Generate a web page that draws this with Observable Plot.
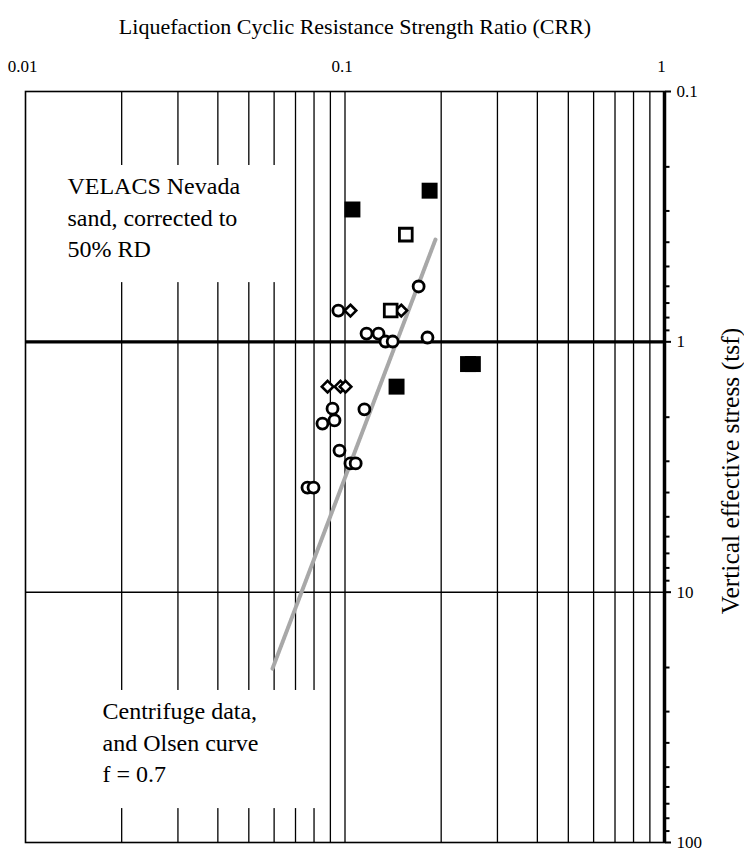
<!DOCTYPE html>
<html>
<head>
<meta charset="utf-8">
<script src="https://cdn.jsdelivr.net/npm/d3@7"></script>
<script src="https://cdn.jsdelivr.net/npm/@observablehq/plot@0.6"></script>
<style>
  html, body { margin: 0; padding: 0; background: #fff; }
  #chart svg { display: block; }
  #chart svg text { font-family: 'Liberation Serif', 'Times New Roman', serif; }
</style>
</head>
<body>
<div id="chart"></div>
<script>
// ---- Data ----
const titleX = "Liquefaction Cyclic Resistance Strength Ratio (CRR)";
const titleY = "Vertical effective stress (tsf)";
const xTicks = [0.01, 0.1, 1];
const yTicks = [0.1, 1, 10, 100];

// VELACS Nevada sand – filled squares
const filledSqX = [0.1055, 0.184, 0.2427, 0.2513, 0.145];
const filledSqY = [0.296, 0.249, 1.227, 1.227, 1.51];
// open squares
const openSqX = [0.155, 0.139];
const openSqY = [0.373, 0.75];
// diamonds
const diamondX = [0.104, 0.150, 0.0882, 0.0968, 0.1004];
const diamondY = [0.75, 0.75, 1.51, 1.51, 1.51];
// centrifuge data – circles
const circleX = [0.0953, 0.170, 0.1168, 0.1273, 0.1339, 0.141, 0.1812, 0.0914, 0.0850, 0.0927, 0.115, 0.0961, 0.104, 0.108, 0.0763, 0.0797];
const circleY = [0.75, 0.601, 0.927, 0.927, 0.997, 0.997, 0.961, 1.85, 2.12, 2.06, 1.86, 2.72, 3.06, 3.06, 3.82, 3.82];
// Olsen curve f = 0.7
const olsenX = [0.0593, 0.192];
const olsenY = [20.2, 0.390];

const noteA = "VELACS Nevada\nsand, corrected to\n50% RD";
const noteB = "Centrifuge data,\nand Olsen curve\nf = 0.7";

// ---- Build tables ----
const zip = (xs, ys) => xs.map((x, i) => ({x, y: ys[i]}));
const decades = (lo, hi) => {
  const out = [];
  for (let d = lo; d < hi; d *= 10) for (let k = 1; k <= 9; k++) out.push(+(k * d).toPrecision(3));
  return out;
};
const xGrid = decades(0.01, 1).filter(v => v > 0.01 && v < 1);
const yMinor = decades(0.1, 100).filter(v => !yTicks.includes(v));

const font = "'Liberation Serif', 'Times New Roman', serif";

const chart = Plot.plot({
  width: 744,
  height: 855,
  marginLeft: 25,
  marginRight: 80,
  marginTop: 91,
  marginBottom: 13,
  style: {fontFamily: font, background: "#fff", color: "#000"},
  x: {type: "log", domain: [0.01, 1], axis: null},
  y: {type: "log", domain: [0.1, 100], reverse: true, axis: null},
  marks: [
    // vertical grid
    Plot.ruleX(xGrid, {stroke: "#000", strokeWidth: 1.3}),
    // horizontal lines
    Plot.ruleY([10], {stroke: "#000", strokeWidth: 1.5}),
    Plot.ruleY([1], {stroke: "#000", strokeWidth: 3.2}),
    // white boxes behind the notes
    Plot.rect([{x1: 0.0101, x2: 0.066, y1: 0.1975, y2: 0.58}], {x1: "x1", x2: "x2", y1: "y1", y2: "y2", fill: "#fff"}),
    Plot.rect([{x1: 0.0101, x2: 0.0855, y1: 24.7, y2: 73.2}], {x1: "x1", x2: "x2", y1: "y1", y2: "y2", fill: "#fff"}),
    // Olsen curve
    Plot.line(zip(olsenX, olsenY), {x: "x", y: "y", stroke: "#a8a8a8", strokeWidth: 4, strokeDasharray: "1,1"}),
    // data points
    Plot.dot(zip(circleX, circleY), {x: "x", y: "y", symbol: "circle", r: 5.5, stroke: "#000", strokeWidth: 2.8, fill: "#fff"}),
    Plot.dot(zip(diamondX, diamondY), {x: "x", y: "y", symbol: "diamond2", r: 5.2, stroke: "#000", strokeWidth: 2.6, fill: "#fff"}),
    Plot.dot(zip(openSqX, openSqY), {x: "x", y: "y", symbol: "square", r: 7.2, stroke: "#000", strokeWidth: 2.8, fill: "#fff"}),
    Plot.dot(zip(filledSqX, filledSqY), {x: "x", y: "y", symbol: "square", r: 9, fill: "#000", stroke: "none"}),
    // frame
    Plot.frame({stroke: "#000", strokeWidth: 1.6}),
    Plot.ruleX([1], {stroke: "#000", strokeWidth: 3.5}),
    // axes ticks (right side)
    Plot.axisY(yMinor, {anchor: "right", tickSize: 4.5, strokeWidth: 2, tickFormat: () => "", label: null}),
    Plot.axisY(yTicks, {anchor: "right", tickSize: 6, strokeWidth: 2, tickFormat: () => "", label: null}),
    // tick labels
    Plot.text(xTicks, {x: d => d, frameAnchor: "top", dy: -32, dx: -3, text: d => String(d), fontSize: 17, fontFamily: font, fill: "#000"}),
    Plot.text(yTicks, {y: d => d, frameAnchor: "right", dx: 12, textAnchor: "start", text: d => String(d), fontSize: 17, fontFamily: font, fill: "#000"}),
    // titles
    Plot.text([titleX], {frameAnchor: "top", dy: -73, dx: 10, fontSize: 22, fontFamily: font, fill: "#000"}),
    Plot.text([titleY], {frameAnchor: "right", textAnchor: "middle", rotate: -90, dx: 66, dy: 4, fontSize: 25.5, fontFamily: font, fill: "#000"}),
    // notes
    Plot.text([noteA], {x: () => 0.01353, y: () => 0.313, text: d => d, textAnchor: "start", lineAnchor: "middle", lineHeight: 1.3, fontSize: 24, fontFamily: font, fill: "#000"}),
    Plot.text([noteB], {x: () => 0.01742, y: () => 39.2, text: d => d, textAnchor: "start", lineAnchor: "middle", lineHeight: 1.3, fontSize: 24, fontFamily: font, fill: "#000"})
  ]
});
document.getElementById("chart").append(chart);
</script>
</body>
</html>
